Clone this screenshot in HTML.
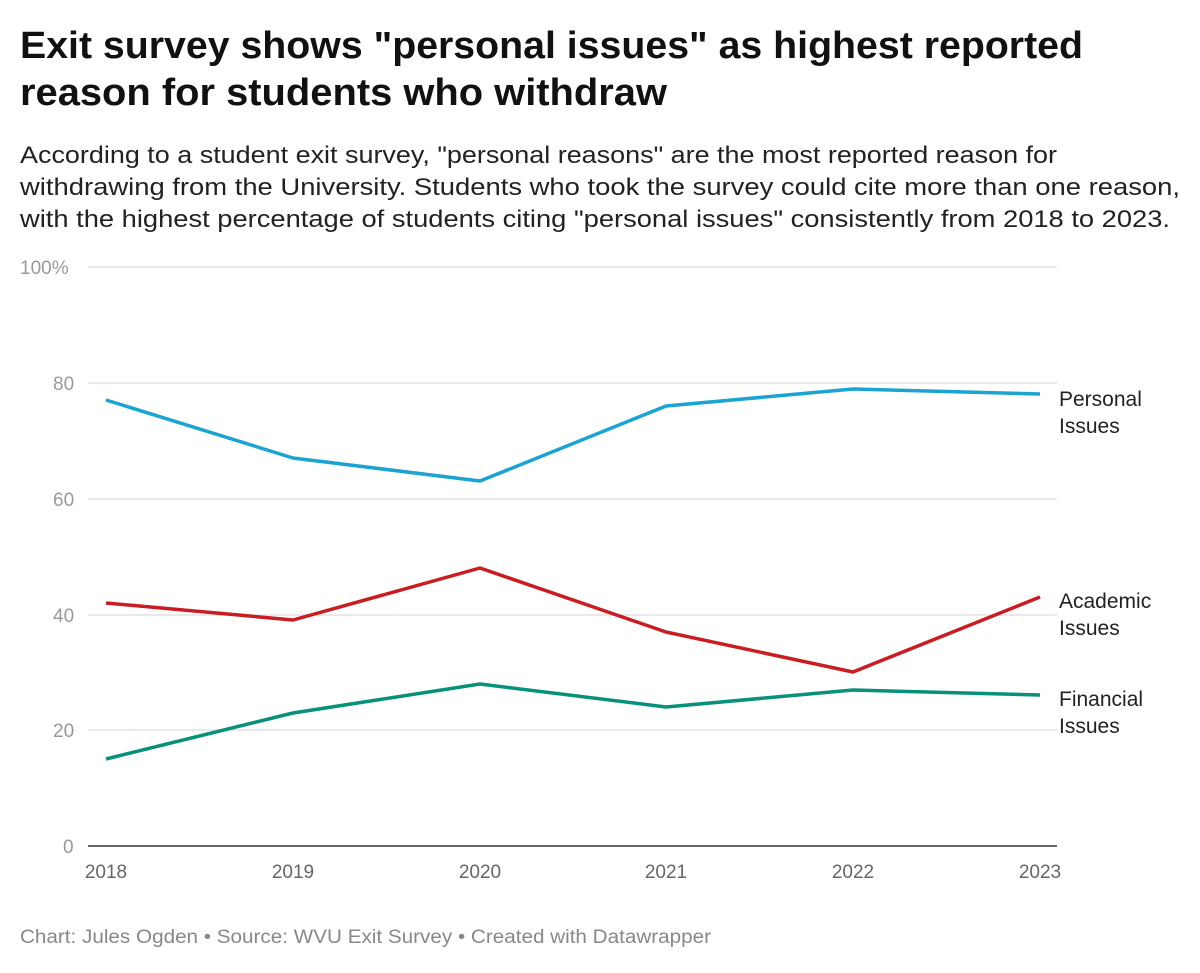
<!DOCTYPE html>
<html><head><meta charset="utf-8"><style>
body{margin:0;background:#fff;width:1200px;height:968px;overflow:hidden;font-family:"Liberation Sans",sans-serif}
</style></head><body>
<svg width="1200" height="968" xmlns="http://www.w3.org/2000/svg" font-family="Liberation Sans, sans-serif">
<text x="20" y="58" font-size="38" font-weight="bold" fill="#111" textLength="1063" lengthAdjust="spacingAndGlyphs">Exit survey shows "personal issues" as highest reported</text>
<text x="20" y="105" font-size="38" font-weight="bold" fill="#111" textLength="647" lengthAdjust="spacingAndGlyphs">reason for students who withdraw</text>
<g font-size="24" fill="#222">
<text x="20" y="163" textLength="1037" lengthAdjust="spacingAndGlyphs">According to a student exit survey, "personal reasons" are the most reported reason for</text>
<text x="20" y="195" textLength="1160" lengthAdjust="spacingAndGlyphs">withdrawing from the University. Students who took the survey could cite more than one reason,</text>
<text x="20" y="227" textLength="1150" lengthAdjust="spacingAndGlyphs">with the highest percentage of students citing "personal issues" consistently from 2018 to 2023.</text>
</g>
<g stroke="#e2e2e2" stroke-width="1.5">
<line x1="88" x2="1057" y1="267" y2="267"/><line x1="88" x2="1057" y1="383" y2="383"/>
<line x1="88" x2="1057" y1="499" y2="499"/><line x1="88" x2="1057" y1="615" y2="615"/>
<line x1="88" x2="1057" y1="730" y2="730"/>
</g>
<line x1="88" x2="1057" y1="846" y2="846" stroke="#333" stroke-width="1.5"/>
<g font-size="19" fill="#999">
<text x="20" y="274">100%</text><text x="53" y="390">80</text><text x="53" y="506">60</text>
<text x="53" y="622">40</text><text x="53" y="737">20</text><text x="63" y="853">0</text>
</g>
<g font-size="19" fill="#666" text-anchor="middle">
<text x="106" y="878">2018</text><text x="293" y="878">2019</text><text x="480" y="878">2020</text>
<text x="666" y="878">2021</text><text x="853" y="878">2022</text><text x="1040" y="878">2023</text>
</g>
<g fill="none" stroke-width="3.5" stroke-linejoin="round">
<polyline stroke="#1ba3d1" points="106,400 293,458 480,481 666,406 853,389 1040,394"/>
<polyline stroke="#c91d22" points="106,603 293,620 480,568 666,632 853,672 1040,597"/>
<polyline stroke="#07917a" points="106,759 293,713 480,684 666,707 853,690 1040,695"/>
</g>
<g font-size="21" fill="#222">
<text x="1059" y="406">Personal</text><text x="1059" y="433">Issues</text>
<text x="1059" y="608">Academic</text><text x="1059" y="635">Issues</text>
<text x="1059" y="706">Financial</text><text x="1059" y="733">Issues</text>
</g>
<text x="20" y="943" font-size="19" fill="#888" textLength="691" lengthAdjust="spacingAndGlyphs">Chart: Jules Ogden • Source: WVU Exit Survey • Created with Datawrapper</text>
</svg>
</body></html>
